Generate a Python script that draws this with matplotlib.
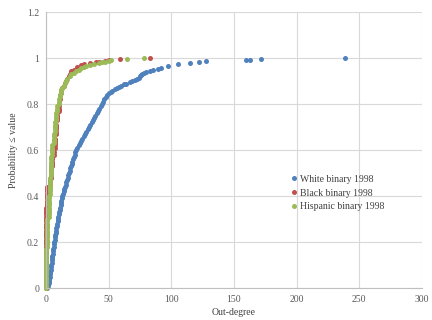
import matplotlib
matplotlib.use("Agg")
import matplotlib.pyplot as plt

# ---------------------------------------------------------------------------
# Data (out-degree, cumulative probability)
# ---------------------------------------------------------------------------

white_x = [
    1, 1.5, 2, 2, 2.5, 3, 3.2, 3.5, 3.8, 4, 4.3, 4.5, 4.7, 5, 5.1, 5.3,
    5.5, 5.8, 6, 6.2, 6.5, 6.8, 7.1, 7.4, 7.7, 8, 8.3, 8.6, 9, 9.3, 9.6,
    9.9, 10.2, 10.5, 10.9, 11.2, 11.6, 12, 12.3, 12.7, 13, 13.5, 14, 14.5,
    15, 15.6, 16.2, 16.7, 17.3, 17.8, 18.4, 18.9, 19.4, 20, 20.5, 21, 21.6,
    22.2, 22.8, 23.4, 24, 25, 26, 27, 28, 29, 30.1, 31.2, 32.3, 33.4, 34.5,
    35.5, 36.5, 37.5, 38.5, 39.5, 40.5, 41.5, 42.5, 43.5, 44.4, 45.5, 46.5,
    47.5, 49, 50.5, 52, 53, 55, 57, 58, 60, 62, 64, 67, 69, 71, 72.5, 74,
    75, 76, 77, 78, 80, 83, 85.6, 89, 92, 97.6, 105.6, 115, 122, 128, 160,
    162.5, 172, 239,
]
white_p = [
    0.00, 0.01, 0.02, 0.03, 0.04, 0.05, 0.06, 0.07, 0.08, 0.09, 0.10, 0.11,
    0.12, 0.13, 0.14, 0.15, 0.16, 0.17, 0.18, 0.19, 0.20, 0.21, 0.22, 0.23,
    0.24, 0.25, 0.26, 0.27, 0.28, 0.29, 0.30, 0.31, 0.32, 0.33, 0.34, 0.35,
    0.36, 0.37, 0.38, 0.39, 0.40, 0.41, 0.42, 0.43, 0.44, 0.45, 0.46, 0.47,
    0.48, 0.49, 0.50, 0.51, 0.52, 0.53, 0.54, 0.55, 0.56, 0.57, 0.58, 0.59,
    0.60, 0.61, 0.62, 0.63, 0.64, 0.65, 0.66, 0.67, 0.68, 0.69, 0.70, 0.71,
    0.72, 0.73, 0.74, 0.75, 0.76, 0.77, 0.78, 0.79, 0.80, 0.81, 0.82, 0.83,
    0.84, 0.848, 0.853, 0.857, 0.865, 0.87, 0.875, 0.88, 0.885, 0.888,
    0.895, 0.90, 0.905, 0.91, 0.915, 0.92, 0.925, 0.93, 0.936, 0.94, 0.944,
    0.948, 0.953, 0.958, 0.965, 0.972, 0.977, 0.983, 0.987, 0.99, 0.993,
    0.996, 1.0,
]

black_x = [
    0, 0, 0, 0, 0, 0, 0, 0, 0, 0, 0, 0, 0, 0, 0, 0, 0, 0, 0, 0, 0, 0, 0, 0,
    0, 0, 0, 0, 0, 0, 0, 0, 0, 0, 0, 0,
    1, 1, 1, 1, 1, 1, 1, 1, 1,
    3, 3, 3, 4, 4, 4, 4, 4, 5, 5, 5, 5, 5, 6, 6, 7, 7, 7, 7, 7,
    8, 8, 8, 8, 8, 9, 9, 9, 9, 10, 10, 10, 10, 11, 11, 12, 12, 13, 14, 15,
    16, 17, 18, 19, 20, 20, 22, 25, 28, 30, 35, 40, 42, 47, 50, 59, 83,
]
black_p = [
    0.00, 0.01, 0.02, 0.03, 0.04, 0.05, 0.06, 0.07, 0.08, 0.09, 0.10, 0.11,
    0.12, 0.13, 0.14, 0.15, 0.16, 0.17, 0.18, 0.19, 0.20, 0.21, 0.22, 0.23,
    0.24, 0.25, 0.26, 0.27, 0.28, 0.29, 0.30, 0.31, 0.32, 0.33, 0.34, 0.35,
    0.36, 0.37, 0.38, 0.39, 0.40, 0.41, 0.42, 0.43, 0.44,
    0.45, 0.46, 0.47, 0.48, 0.49, 0.50, 0.51, 0.52, 0.53, 0.54, 0.55, 0.56,
    0.57, 0.58, 0.59, 0.61, 0.62, 0.63, 0.64, 0.65,
    0.67, 0.68, 0.69, 0.70, 0.71, 0.73, 0.74, 0.75, 0.76, 0.77, 0.78, 0.79,
    0.80, 0.82, 0.84, 0.85, 0.86, 0.87, 0.88, 0.89, 0.90, 0.91, 0.92, 0.93,
    0.935, 0.945, 0.95, 0.96, 0.968, 0.972, 0.978, 0.981, 0.983, 0.988,
    0.99, 0.994, 1.0,
]

hispanic_x = [
    0, 0, 0, 0, 0, 0, 0, 0, 0, 0, 0, 0, 0, 0, 0, 0, 0, 0,
    1, 1, 1, 1, 1, 1, 1, 1, 1, 1, 1, 1, 1,
    2, 2, 2, 2, 2, 2, 2, 2, 2, 2,
    3, 3, 3, 3, 3, 3, 3, 3,
    4, 4, 4, 4, 4, 4, 4, 4, 4,
    5, 5, 5, 5, 5, 6, 6, 6, 6, 6, 7, 7, 7, 7, 7, 8, 8, 8, 8,
    9, 9, 9, 10, 10, 10, 11, 11, 12, 12, 13, 14, 15, 16, 17, 19, 20, 22,
    24, 26, 28, 30, 32, 35, 38, 42, 45, 47, 50, 52, 65, 78,
]
hispanic_p = [
    0.00, 0.01, 0.02, 0.03, 0.04, 0.05, 0.06, 0.07, 0.08, 0.09, 0.10, 0.11,
    0.12, 0.13, 0.14, 0.15, 0.16, 0.17,
    0.18, 0.19, 0.20, 0.21, 0.22, 0.23, 0.24, 0.25, 0.26, 0.27, 0.28, 0.29,
    0.30,
    0.31, 0.32, 0.33, 0.34, 0.35, 0.36, 0.37, 0.38, 0.39, 0.40,
    0.41, 0.42, 0.43, 0.44, 0.45, 0.46, 0.47, 0.48,
    0.49, 0.50, 0.51, 0.52, 0.53, 0.54, 0.55, 0.56, 0.57,
    0.58, 0.59, 0.60, 0.61, 0.62, 0.63, 0.64, 0.65, 0.66, 0.67,
    0.68, 0.69, 0.70, 0.71, 0.72, 0.73, 0.74, 0.75, 0.76,
    0.77, 0.78, 0.79, 0.80, 0.81, 0.82, 0.83, 0.84, 0.85, 0.86, 0.87, 0.88,
    0.89, 0.90, 0.91, 0.92, 0.93, 0.936, 0.942, 0.95, 0.956, 0.96, 0.964,
    0.97, 0.975, 0.978, 0.981, 0.983, 0.987, 0.99, 0.997, 1.0,
]

series_names = ["White binary 1998", "Black binary 1998", "Hispanic binary 1998"]
series_colors = ["#4F81BD", "#C0504D", "#9BBB59"]

x_ticks = [0, 50, 100, 150, 200, 250, 300]
y_ticks = [0, 0.2, 0.4, 0.6, 0.8, 1.0, 1.2]
y_tick_labels = ["0", "0.2", "0.4", "0.6", "0.8", "1", "1.2"]

# ---------------------------------------------------------------------------
# Plot
# ---------------------------------------------------------------------------

plt.rcParams["font.family"] = ["Liberation Serif", "DejaVu Serif"]

fig = plt.figure(figsize=(4.32, 3.20), dpi=100)
ax = fig.add_axes([0.1065, 0.10, 0.870, 0.8625])

all_x = [white_x, black_x, hispanic_x]
all_p = [white_p, black_p, hispanic_p]
for xs, ps, name, color in zip(all_x, all_p, series_names, series_colors):
    ax.plot(xs, ps, linestyle="none", marker="o", markersize=3.6,
            markeredgewidth=0, color=color, label=name, clip_on=False)

ax.set_xlim(0, 300)
ax.set_ylim(0, 1.2)
ax.set_xticks(x_ticks)
ax.set_yticks(y_ticks)
ax.set_yticklabels(y_tick_labels)
ax.tick_params(length=0, labelsize=7, colors="#595959", pad=5)

ax.grid(True, color="#D9D9D9", linewidth=0.8)
ax.set_axisbelow(True)
for side in ["top", "right"]:
    ax.spines[side].set_visible(False)
for side in ["left", "bottom"]:
    ax.spines[side].set_color("#BFBFBF")
    ax.spines[side].set_linewidth(0.8)

ax.set_xlabel("Out-degree", fontsize=7, color="#404040", labelpad=3)
ax.set_ylabel("Probability \u2264 value", fontsize=7, color="#404040", labelpad=6)

ax.legend(loc="upper left", bbox_to_anchor=(0.635, 0.435), frameon=False,
          fontsize=7, handlelength=0.6, handletextpad=0.3, labelspacing=0.5,
          borderpad=0.2, labelcolor="#404040")

fig.savefig("out.png", dpi=100)
